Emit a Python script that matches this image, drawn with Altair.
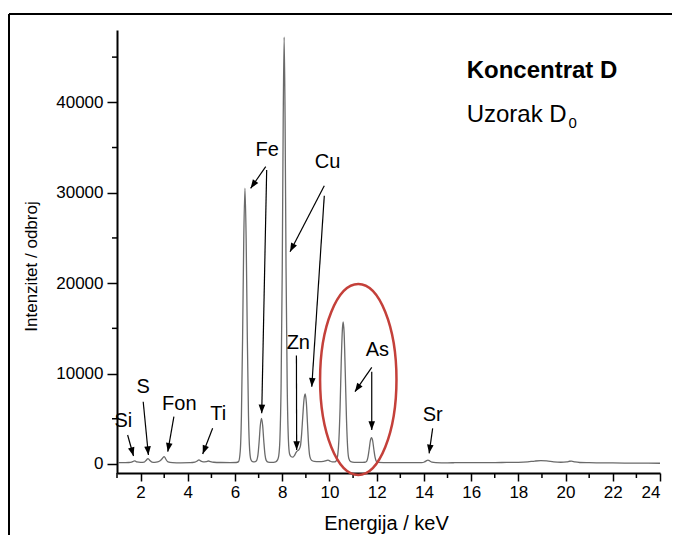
import math
import altair as alt
import pandas as pd

# ---- spectrum ----
energy = [1.05, 1.30, 1.50, 1.62, 1.70, 1.76, 1.84, 2.00, 2.15, 2.24, 2.31, 2.38, 2.48, 2.60, 2.72,
          2.84, 2.92, 3.00, 3.07, 3.16, 3.35, 3.70, 4.10, 4.30, 4.40, 4.47, 4.55, 4.65, 4.78, 4.87,
          4.96, 5.10, 5.40, 5.80, 6.05, 6.15, 6.22, 6.27, 6.32, 6.37, 6.42, 6.47, 6.52, 6.57, 6.62,
          6.67, 6.74, 6.82, 6.90, 6.97, 7.02, 7.07, 7.12, 7.17, 7.22, 7.27, 7.32, 7.40, 7.55, 7.72,
          7.80, 7.85, 7.90, 7.95, 8.00, 8.04, 8.08, 8.12, 8.16, 8.21, 8.26, 8.31, 8.38, 8.45, 8.52,
          8.58, 8.64, 8.70, 8.77, 8.82, 8.87, 8.92, 8.97, 9.02, 9.07, 9.12, 9.17, 9.24, 9.35, 9.55,
          9.75, 9.86, 9.94, 10.02, 10.12, 10.22, 10.30, 10.35, 10.40, 10.45, 10.50, 10.55, 10.58,
          10.62, 10.67, 10.72, 10.77, 10.82, 10.90, 11.05, 11.30, 11.50, 11.58, 11.63, 11.68, 11.73,
          11.78, 11.83, 11.88, 11.93, 11.98, 12.06, 12.50, 13.00, 13.50, 13.90, 14.02, 14.10, 14.17,
          14.25, 14.34, 14.50, 15.00, 15.50, 16.00, 16.50, 17.00, 17.50, 18.00, 18.40, 18.70, 18.95,
          19.20, 19.50, 19.80, 20.05, 20.17, 20.25, 20.40, 20.60, 21.00, 21.50, 22.00, 22.50, 23.00,
          23.50, 24.00]
counts = [140, 150, 160, 200, 300, 340, 220, 170, 200, 420, 600, 420, 210, 180, 230,
          380, 600, 820, 520, 230, 150, 130, 140, 200, 330, 460, 330, 240, 260, 330,
          260, 190, 160, 150, 160, 260, 1400, 5300, 14000, 25000, 30500, 25000, 14000, 5300, 1500,
          500, 260, 240, 330, 1000, 2450, 4250, 5050, 4250, 2450, 1000, 400, 200, 170, 230,
          450, 900, 2700, 8500, 21700, 38000, 47200, 38000, 21700, 8500, 2700, 1100, 800, 760, 950,
          1250, 1450, 1550, 2000, 3300, 5300, 7100, 7750, 6800, 4400, 2000, 800, 400, 280, 260,
          280, 360, 420, 320, 230, 220, 400, 1000, 2700, 6300, 11500, 15000, 15700,
          14500, 10000, 5000, 1800, 600, 250, 180, 170, 190, 320, 750, 1600, 2550,
          2900, 2550, 1600, 750, 320, 180, 150, 150, 140, 150, 220, 350, 420,
          330, 200, 150, 130, 140, 140, 150, 150, 170, 180, 230, 320, 360,
          330, 230, 190, 230, 300, 320, 220, 160, 140, 120, 110, 100, 90,
          85, 80]

# ---- axes ----
x_major = [2, 4, 6, 8, 10, 12, 14, 16, 18, 20, 22, 24]
x_minor = [1, 3, 5, 7, 9, 11, 13, 15, 17, 19, 21, 23]
y_major = [0, 10000, 20000, 30000, 40000]
y_minor = [5000, 15000, 25000, 35000, 45000]

# ---- element labels and arrows ----
labels = ["Si", "S", "Fon", "Ti", "Fe", "Cu", "Zn", "As", "Sr"]
label_x = [1.27, 2.11, 3.64, 5.29, 7.36, 9.92, 8.68, 12.03, 14.37]
label_y = [4785, 8546, 6632, 5493, 34727, 33433, 13346, 12605, 5415]

arrow_x1 = [1.45, 2.11, 3.41, 5.05, 7.30, 7.34, 9.78, 9.78, 8.60, 11.79, 11.79, 14.37]
arrow_y1 = [3203, 6887, 5227, 3944, 32880, 32515, 30778, 29672, 11997, 10692, 10205, 3944]
arrow_x2 = [1.70, 2.33, 3.15, 4.63, 6.66, 7.13, 8.33, 9.25, 8.61, 11.08, 11.79, 14.22]
arrow_y2 = [880, 991, 1356, 1102, 30490, 5604, 23478, 8546, 1544, 7993, 3756, 1179]

# red ellipse around the As peaks
ellipse_x = [11.22]
ellipse_y = [9342]

W, H = 543, 443
XDOM = [1, 24]
YDOM = [-1000, 48000]
FONT = "Liberation Sans"
PAD = {"left": 109, "top": 22, "right": 12, "bottom": 62}

px_x = W / (XDOM[1] - XDOM[0])
px_y = H / (YDOM[1] - YDOM[0])
angles = []
for a, b, c, d in zip(arrow_x1, arrow_y1, arrow_x2, arrow_y2):
    dx = (c - a) * px_x
    dy = -(d - b) * px_y
    angles.append(math.degrees(math.atan2(-dx, dy)) % 360)

spec = pd.DataFrame({"E": energy, "I": counts})
lab = pd.DataFrame({"t": labels, "x": label_x, "y": label_y})
arr = pd.DataFrame({"x1": arrow_x1, "y1": arrow_y1, "x2": arrow_x2, "y2": arrow_y2, "a": angles})
ell = pd.DataFrame({"x": ellipse_x, "y": ellipse_y})
xmin_df = pd.DataFrame({"v": x_minor})
ymin_df = pd.DataFrame({"v": y_minor})

xs = alt.Scale(domain=XDOM, nice=False, zero=False)
ys = alt.Scale(domain=YDOM, nice=False, zero=False)

xaxis = alt.Axis(
    values=x_major, format="d", grid=False, tickSize=8, labelPadding=3, labelFontSize=17,
    title="Energija / keV", titleFontSize=20, titleFontWeight="normal", titleX=269, titleY=50,
    titleBaseline="middle", titleAlign="center")
yaxis = alt.Axis(
    values=y_major, format="d", grid=False, tickSize=10, labelPadding=4, labelFontSize=17,
    title="Intenzitet / odbroj", titleFontSize=17, titleFontWeight="normal", titleX=-86,
    titleY=236, titleAngle=270, titleBaseline="middle", titleAlign="center")


def X(f):
    return alt.X(f, scale=xs, axis=xaxis)


def Y(f):
    return alt.Y(f, scale=ys, axis=yaxis)


line = alt.Chart(spec).mark_line(color="#6a6a6a", strokeWidth=1.3, interpolate="monotone").encode(
    x=X("E:Q"), y=Y("I:Q"))

xminor = alt.Chart(xmin_df).mark_rule(color="black", strokeWidth=1.5).encode(
    x=X("v:Q"), y=alt.value(H), y2=alt.value(H + 5))
yminor = alt.Chart(ymin_df).mark_rule(color="black", strokeWidth=1.5).encode(
    y=Y("v:Q"), x=alt.value(-5), x2=alt.value(0))

shafts = alt.Chart(arr).mark_rule(color="black", strokeWidth=1.2).encode(
    x=X("x1:Q"), y=Y("y1:Q"), x2="x2:Q", y2="y2:Q")
heads = alt.Chart(arr).mark_point(
    shape="M0,0L-0.38,-1L0.38,-1Z", filled=True, color="black", size=300, opacity=1
).encode(x=X("x2:Q"), y=Y("y2:Q"), angle=alt.Angle("a:Q", scale=None))

texts = alt.Chart(lab).mark_text(font=FONT, fontSize=20, color="black", baseline="middle",
                                  align="center").encode(x=X("x:Q"), y=Y("y:Q"), text="t:N")

ellipse = alt.Chart(ell).mark_point(
    shape="M0,-1A0.4,1 0 1,1 0,1A0.4,1 0 1,1 0,-1Z", filled=False, color="#c4403a",
    strokeWidth=2.5, size=36481, opacity=1
).encode(x=X("x:Q"), y=Y("y:Q"))

title_df = pd.DataFrame({"x": [15.81], "y": [42657], "t": ["Koncentrat D"]})
sub_df = pd.DataFrame({"x": [15.81], "y": [37857], "t": ["Uzorak D"]})
idx_df = pd.DataFrame({"x": [20.12], "y": [37127], "t": ["0"]})

t1 = alt.Chart(title_df).mark_text(font=FONT, fontSize=24, fontWeight="bold", align="left",
                                    baseline="alphabetic", color="black").encode(
    x=X("x:Q"), y=Y("y:Q"), text="t:N")
t2 = alt.Chart(sub_df).mark_text(font=FONT, fontSize=24, align="left",
                                  baseline="alphabetic", color="black").encode(
    x=X("x:Q"), y=Y("y:Q"), text="t:N")
t3 = alt.Chart(idx_df).mark_text(font=FONT, fontSize=15, align="left",
                                  baseline="alphabetic", color="black").encode(
    x=X("x:Q"), y=Y("y:Q"), text="t:N")

# outer figure frame (top and left edges visible in the reference)
one = pd.DataFrame({"k": [0]})
frame_top = alt.Chart(one).mark_rule(color="black", strokeWidth=2).encode(
    x=alt.value(-PAD["left"] + 1), x2=alt.value(W + PAD["right"] + 20), y=alt.value(-16))
frame_left = alt.Chart(one).mark_rule(color="black", strokeWidth=2).encode(
    x=alt.value(-PAD["left"] + 1), y=alt.value(-16), y2=alt.value(H + PAD["bottom"] + 20))

chart = alt.layer(frame_top, frame_left, xminor, yminor, line, shafts, heads, texts, ellipse,
                  t1, t2, t3).properties(
    width=W, height=H, autosize="none", padding=PAD, background="white",
).configure_view(strokeWidth=0, strokeOpacity=0).configure_axis(
    grid=False, domainColor="black", domainWidth=2, tickColor="black", tickWidth=1.5,
    labelColor="black", titleColor="black", labelFont=FONT, titleFont=FONT,
)

chart.save("out.html", embed_options={"renderer": "svg", "actions": False})
